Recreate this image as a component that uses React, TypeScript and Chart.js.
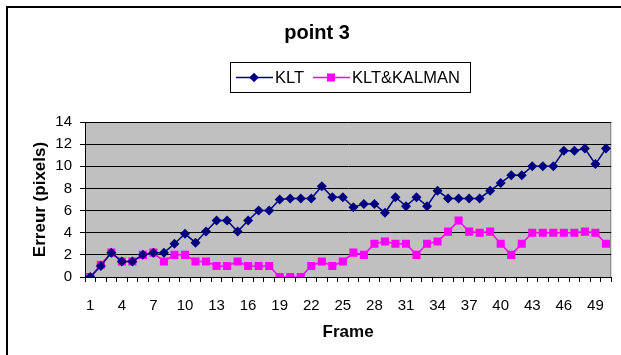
import React, { useEffect, useRef } from "react";
import { Chart, registerables } from "chart.js";

Chart.register(...registerables);

const frames = [
  "1", "2", "3", "4", "5", "6", "7", "8", "9", "10",
  "11", "12", "13", "14", "15", "16", "17", "18", "19", "20",
  "21", "22", "23", "24", "25", "26", "27", "28", "29", "30",
  "31", "32", "33", "34", "35", "36", "37", "38", "39", "40",
  "41", "42", "43", "44", "45", "46", "47", "48", "49", "50",
];

const kltErrors = [
  0, 1.0, 2.2, 1.4, 1.4, 2.0, 2.2, 2.2, 3.0, 3.9,
  3.1, 4.1, 5.1, 5.1, 4.1, 5.1, 6.0, 6.0, 7.0, 7.1,
  7.1, 7.1, 8.2, 7.2, 7.2, 6.3, 6.6, 6.6, 5.8, 7.2,
  6.4, 7.2, 6.4, 7.8, 7.1, 7.1, 7.1, 7.1, 7.8, 8.5,
  9.2, 9.2, 10.0, 10.0, 10.0, 11.4, 11.4, 11.6, 10.2, 11.6,
];

const kalmanErrors = [
  0, 1.1, 2.2, 1.4, 1.4, 2.0, 2.2, 1.4, 2.0, 2.0,
  1.4, 1.4, 1.0, 1.0, 1.4, 1.0, 1.0, 1.0, 0, 0,
  0, 1.0, 1.4, 1.0, 1.4, 2.2, 2.0, 3.0, 3.2, 3.0,
  3.0, 2.0, 3.0, 3.2, 4.1, 5.1, 4.1, 4.0, 4.1, 3.0,
  2.0, 3.0, 4.0, 4.0, 4.0, 4.0, 4.0, 4.1, 4.0, 3.0,
];

const seriesNames = ["KLT", "KLT&KALMAN"];
const seriesColors = ["#000080", "#FF00FF"];
const seriesMarkers = ["rectRot", "rect"] as const;

const FONT = "'Liberation Sans', Arial, sans-serif";

// Grey plot background and the outer frame of the chart object
const backdropPlugin = {
  id: "backdrop",
  beforeDraw(chart: any) {
    const { ctx, chartArea } = chart;
    ctx.save();
    ctx.fillStyle = "#ffffff";
    ctx.fillRect(0, 0, chart.width, chart.height);
    ctx.strokeStyle = "#000000";
    ctx.lineWidth = 2;
    ctx.strokeRect(7, 7, chart.width + 20, chart.height + 20);
    ctx.fillStyle = "#C0C0C0";
    ctx.fillRect(chartArea.left, chartArea.top, chartArea.right - chartArea.left, chartArea.bottom - chartArea.top);
    ctx.strokeStyle = "#808080";
    ctx.lineWidth = 1;
    ctx.strokeRect(chartArea.left + 0.5, chartArea.top + 0.5, chartArea.right - chartArea.left - 1, chartArea.bottom - chartArea.top);
    ctx.restore();
  },
};

// Boxed legend with line-and-marker samples
const legendSampleX = [236, 313];
const boxLegendPlugin = {
  id: "boxLegend",
  afterDraw(chart: any) {
    const { ctx } = chart;
    const box = { x: 230.5, y: 62.5, w: 240, h: 30 };
    const cy = box.y + box.h / 2;
    ctx.save();
    ctx.strokeStyle = "#000000";
    ctx.lineWidth = 1;
    ctx.strokeRect(box.x, box.y, box.w, box.h);
    ctx.font = `16.5px ${FONT}`;
    ctx.textBaseline = "middle";
    seriesNames.forEach((name, i) => {
      const x = legendSampleX[i];
      const color = seriesColors[i];
      ctx.strokeStyle = color;
      ctx.lineWidth = 1.5;
      ctx.beginPath();
      ctx.moveTo(x, cy);
      ctx.lineTo(x + 37, cy);
      ctx.stroke();
      ctx.fillStyle = color;
      ctx.beginPath();
      if (seriesMarkers[i] === "rectRot") {
        const r = 4.8;
        const mx = x + 18;
        ctx.moveTo(mx, cy - r);
        ctx.lineTo(mx + r, cy);
        ctx.lineTo(mx, cy + r);
        ctx.lineTo(mx - r, cy);
        ctx.closePath();
      } else {
        ctx.rect(x + 18 - 4, cy - 4, 8, 8);
      }
      ctx.fill();
      ctx.fillStyle = "#000000";
      ctx.fillText(name, x + 39, cy + 0.5);
    });
    ctx.restore();
  },
};

export default function App() {
  const canvasRef = useRef<HTMLCanvasElement | null>(null);

  useEffect(() => {
    if (!canvasRef.current) return;
    const chart = new Chart(canvasRef.current, {
      type: "line",
      data: {
        labels: frames,
        datasets: [
          {
            label: seriesNames[0],
            data: kltErrors,
            borderColor: seriesColors[0],
            backgroundColor: seriesColors[0],
            borderWidth: 1.5,
            pointStyle: seriesMarkers[0],
            pointRadius: 5,
            pointBorderWidth: 0,
            tension: 0,
          },
          {
            label: seriesNames[1],
            data: kalmanErrors,
            borderColor: seriesColors[1],
            backgroundColor: seriesColors[1],
            borderWidth: 1.5,
            pointStyle: seriesMarkers[1],
            pointRadius: 5.7,
            pointBorderWidth: 0,
            tension: 0,
          },
        ],
      },
      options: {
        responsive: false,
        animation: false,
        layout: { padding: { top: 0, left: 16, right: 3, bottom: 0 } },
        plugins: {
          legend: { display: false },
          tooltip: { enabled: false },
          title: {
            display: true,
            text: "point 3",
            color: "#000000",
            font: { family: FONT, size: 20, weight: "bold", lineHeight: 1.2 },
            padding: { top: 21, bottom: 77 },
          },
        },
        scales: {
          x: {
            type: "category",
            offset: true,
            afterFit: (scale: any) => {
              scale.height = 78;
            },
            grid: {
              display: true,
              offset: true,
              drawOnChartArea: false,
              drawTicks: true,
              tickLength: 5,
              color: "#000000",
            },
            border: { display: true, color: "#000000", width: 1 },
            ticks: {
              autoSkip: false,
              maxRotation: 0,
              minRotation: 0,
              padding: 15,
              color: "#000000",
              font: { family: FONT, size: 15 },
              callback: (_v: any, i: number) => (i % 3 === 0 ? frames[i] : ""),
            },
            title: {
              display: true,
              text: "Frame",
              color: "#000000",
              font: { family: FONT, size: 17, weight: "bold", lineHeight: 1.2 },
              padding: { top: 0, bottom: 12 },
            },
          },
          y: {
            min: 0,
            max: 14,
            afterFit: (scale: any) => {
              scale.width = 69;
            },
            grid: {
              display: true,
              color: "#000000",
              lineWidth: 1,
              drawTicks: true,
              tickLength: 5,
            },
            border: { display: true, color: "#000000", width: 1 },
            ticks: {
              stepSize: 2,
              padding: 8,
              color: "#000000",
              font: { family: FONT, size: 15 },
            },
            title: {
              display: true,
              text: "Erreur (pixels)",
              color: "#000000",
              font: { family: FONT, size: 17, weight: "bold", lineHeight: 1.2 },
              padding: { top: 14, bottom: 0 },
            },
          },
        },
      },
      plugins: [backdropPlugin, boxLegendPlugin],
    });
    return () => chart.destroy();
  }, []);

  return (
    <div style={{ position: "absolute", left: 0, top: 0, width: 621, height: 355 }}>
      <canvas ref={canvasRef} width={621} height={355} style={{ display: "block" }} />
    </div>
  );
}
